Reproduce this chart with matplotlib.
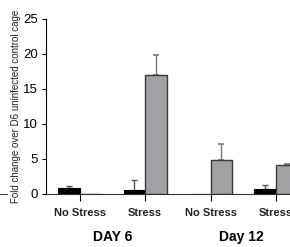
import matplotlib
matplotlib.use("Agg")
import matplotlib.pyplot as plt
import numpy as np
from matplotlib.lines import Line2D

categories = ["No Stress", "Stress", "No Stress", "Stress"]
groups = ["DAY 6", "Day 12"]
black_vals = [0.8, 0.5, 0.0, 0.65]
black_err = [0.3, 1.5, 0.0, 0.65]
gray_vals = [0.0, 17.0, 4.9, 4.1]
gray_err = [0.0, 2.9, 2.2, 0.2]
yticks = [0, 5, 10, 15, 20, 25]
ylabel = "Fold change over D6 uninfected control cage"

plt.rcParams['font.family'] = ['Liberation Sans', 'DejaVu Sans']

fig = plt.figure(figsize=(2.9, 2.47), dpi=100)
ax = fig.add_axes([0.160, 0.2146, 0.84, 0.7085])

x = np.arange(len(categories))
w = 0.33
ax.bar(x - w / 2, black_vals, width=w, color='black', edgecolor='black', linewidth=0.8, zorder=2)
ax.bar(x + w / 2, gray_vals, width=w, color='#a2a2a6', edgecolor='#3a3a3a', linewidth=1.0, zorder=2)

bv = np.array(black_vals); be = np.array(black_err)
gv = np.array(gray_vals); ge = np.array(gray_err)
mb = be > 0
mg = ge > 0
ax.errorbar((x - w / 2)[mb], bv[mb], yerr=[np.zeros(mb.sum()), be[mb]], fmt='none',
            ecolor='#555555', elinewidth=1.0, capsize=2.5, capthick=1.0, zorder=1)
ax.errorbar((x + w / 2)[mg], gv[mg], yerr=[np.zeros(mg.sum()), ge[mg]], fmt='none',
            ecolor='#777777', elinewidth=1.0, capsize=2.5, capthick=1.2, zorder=1)

ax.set_xlim(-0.513, 3.216)
ax.set_ylim(0, 25)
ax.set_yticks(yticks)
ax.set_yticklabels([str(t) for t in yticks], fontsize=9.5)
ax.set_xticks(x)
ax.set_xticklabels(categories, fontsize=8, fontweight='bold', color='#222222')
ax.tick_params(axis='x', length=5, width=0.8, pad=5)
ax.tick_params(axis='y', length=3, width=0.8, pad=3)
for s in ['top', 'right']:
    ax.spines[s].set_visible(False)
ax.spines['left'].set_linewidth(0.8)
ax.spines['bottom'].set_linewidth(0.8)
ax.spines['bottom'].set_color('#333333')

fig.text(16 / 290, 1 - 106 / 247, ylabel, rotation=90, ha='center', va='center', fontsize=7, color='#222222')
fig.text(112.5 / 290, 1 - 237 / 247, groups[0], ha='center', va='center', fontsize=10, fontweight='bold')
fig.text(241.5 / 290, 1 - 237 / 247, groups[1], ha='center', va='center', fontsize=10, fontweight='bold')

fig.add_artist(Line2D([0 / 290, 7 / 290], [1 - 193.5 / 247, 1 - 193.5 / 247], color='#444444', linewidth=0.8))

fig.savefig("out.png", dpi=100)
